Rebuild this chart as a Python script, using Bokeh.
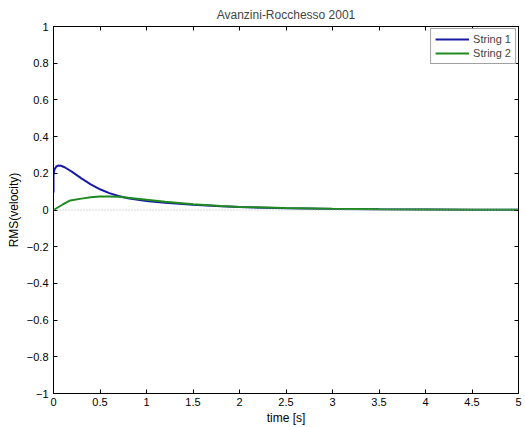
from bokeh.plotting import figure
from bokeh.models import (Range1d, LinearAxis, FixedTicker, Span, Legend, LegendItem)
from bokeh.embed import file_html
from bokeh.resources import INLINE

title = "Avanzini-Rocchesso 2001"
x_label = "time [s]"
y_label = "RMS(velocity)"

x_ticks = [0, 0.5, 1, 1.5, 2, 2.5, 3, 3.5, 4, 4.5, 5]
y_ticks = [-1, -0.8, -0.6, -0.4, -0.2, 0, 0.2, 0.4, 0.6, 0.8, 1]

t1 = [0.0, 0.0, 0.01, 0.03, 0.05, 0.08, 0.12, 0.2, 0.3, 0.4, 0.5, 0.6, 0.7, 0.8, 1.0,
      1.2, 1.5, 1.8, 2.0, 2.5, 3.0, 3.5, 4.0, 4.5, 5.0]
string1 = [0.095, 0.19, 0.22, 0.237, 0.242, 0.241, 0.233, 0.208, 0.172, 0.14, 0.113,
           0.092, 0.076, 0.064, 0.049, 0.039, 0.028, 0.02, 0.016, 0.01, 0.006, 0.004,
           0.003, 0.002, 0.001]

t2 = [0.0, 0.1, 0.18, 0.3, 0.4, 0.5, 0.6, 0.7, 0.8, 1.0, 1.2, 1.5, 1.8, 2.0, 2.5,
      3.0, 3.5, 4.0, 4.5, 5.0]
string2 = [0.0, 0.03, 0.052, 0.062, 0.07, 0.073, 0.074, 0.072, 0.067, 0.056, 0.045,
           0.031, 0.022, 0.017, 0.011, 0.007, 0.004, 0.003, 0.002, 0.001]

FONT = "Liberation Sans"

p = figure(width=525, height=427, output_backend="svg", toolbar_location=None,
           x_range=Range1d(0, 5), y_range=Range1d(-1, 1),
           min_border_left=53, min_border_right=7, min_border_top=26, min_border_bottom=32,
           x_axis_label=x_label, y_axis_label=y_label)
p.title.text = title
p.title.align = "center"
p.title.text_font = FONT
p.title.text_font_size = "12px"
p.title.text_font_style = "normal"
p.title.offset = 0
p.title.standoff = 10

p.xgrid.visible = False
p.ygrid.visible = False
p.outline_line_color = "black"
p.background_fill_color = "white"
p.border_fill_color = "white"

for ax, ticks in ((p.xaxis[0], x_ticks), (p.yaxis[0], y_ticks)):
    ax.ticker = FixedTicker(ticks=ticks)
    ax.major_tick_in = 4
    ax.major_tick_out = 0
    ax.minor_tick_line_color = None
    ax.axis_line_color = "black"
    ax.major_tick_line_color = "black"
    ax.major_label_text_font = FONT
    ax.major_label_text_font_size = "11px"
    ax.major_label_text_color = "black"
    ax.axis_label_text_font = FONT
    ax.axis_label_text_font_size = "12px"
    ax.axis_label_text_font_style = "normal"
    ax.axis_label_text_color = "black"

p.xaxis[0].major_label_standoff = 4
p.xaxis[0].axis_label_standoff = 2
p.yaxis[0].major_label_standoff = 5
p.yaxis[0].axis_label_standoff = 3

top = LinearAxis(ticker=FixedTicker(ticks=x_ticks), major_label_text_color=None,
                 major_tick_in=4, major_tick_out=0, minor_tick_line_color=None,
                 major_label_standoff=0)
right = LinearAxis(ticker=FixedTicker(ticks=y_ticks), major_label_text_color=None,
                   major_tick_in=4, major_tick_out=0, minor_tick_line_color=None,
                   major_label_standoff=0)
p.add_layout(top, "above")
p.add_layout(right, "right")

p.add_layout(Span(location=0, dimension="width", line_color="#b0b0b0",
                  line_dash="1 2", line_width=1))

r1 = p.line(t1, string1, line_color="#1a1aa8", line_width=2)
r2 = p.line(t2, string2, line_color="#1f8a1f", line_width=2)

legend = Legend(items=[LegendItem(label="String 1", renderers=[r1]),
                       LegendItem(label="String 2", renderers=[r2])],
                location="top_right", label_text_font=FONT, label_text_font_size="11px",
                border_line_color="#444444", border_line_width=1, glyph_width=34,
                glyph_height=12, label_height=12, spacing=2, padding=4, margin=2,
                label_standoff=4, background_fill_alpha=1)
p.add_layout(legend)

open("out.html", "w").write(file_html(p, INLINE))
